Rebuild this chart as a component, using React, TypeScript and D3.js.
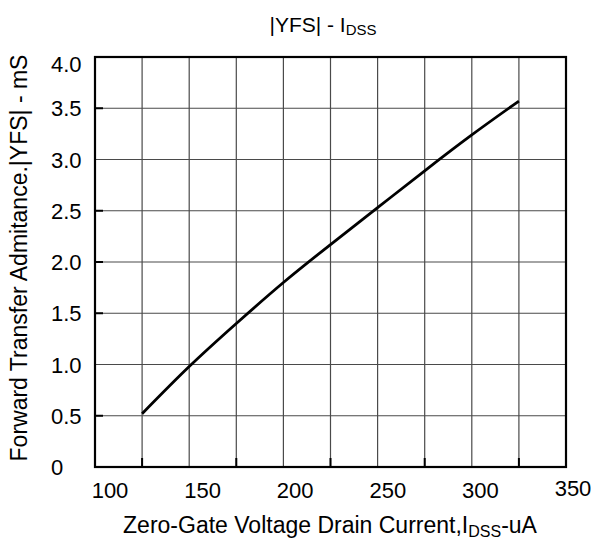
import { useEffect, useRef } from 'react';
import * as d3 from 'd3';

// |YFS| vs IDSS curve
const idss = [125, 150, 175, 200, 225, 250, 275, 300, 325];
const yfs = [0.52, 0.98, 1.4, 1.8, 2.17, 2.53, 2.89, 3.24, 3.57];

const xTicks = [100, 150, 200, 250, 300, 350];
const xGrid = [100, 125, 150, 175, 200, 225, 250, 275, 300, 325, 350];
const xMarks = [125, 175, 225, 275, 325];
const yTicks = [0, 0.5, 1.0, 1.5, 2.0, 2.5, 3.0, 3.5, 4.0];
const yMarks = [0.5, 1.5, 2.0, 2.5, 3.5];

const WIDTH = 595;
const HEIGHT = 543;
const M = { top: 57, right: 29, bottom: 76, left: 95 };
const FONT = '"Liberation Sans", Arial, sans-serif';

export default function App() {
  const svgRef = useRef<SVGSVGElement>(null);

  useEffect(() => {
    if (!svgRef.current) return;
    const svg = d3.select(svgRef.current);
    svg.selectAll('*').remove();

    const x = d3.scaleLinear().domain([100, 350]).range([M.left, WIDTH - M.right]);
    const y = d3.scaleLinear().domain([0, 4]).range([HEIGHT - M.bottom, M.top]);
    // tick labels in the original sit a little right of their grid lines
    const xLab = d3.scaleLinear().domain([100, 350]).range([x(100) + 15, x(350) + 7]);

    svg.append('rect').attr('width', WIDTH).attr('height', HEIGHT).attr('fill', '#fff');

    const grid = svg.append('g').attr('stroke', '#4a4a4a').attr('stroke-width', 1.2);
    grid
      .selectAll('line.v')
      .data(xGrid)
      .join('line')
      .attr('class', 'v')
      .attr('x1', (d) => x(d))
      .attr('x2', (d) => x(d))
      .attr('y1', y(4))
      .attr('y2', y(0));
    grid
      .selectAll('line.h')
      .data(yTicks)
      .join('line')
      .attr('class', 'h')
      .attr('x1', x(100))
      .attr('x2', x(350))
      .attr('y1', (d) => y(d))
      .attr('y2', (d) => y(d));

    // little inner tick marks
    const marks = svg.append('g').attr('stroke', '#000').attr('stroke-width', 2);
    marks
      .selectAll('line.xm')
      .data(xMarks)
      .join('line')
      .attr('class', 'xm')
      .attr('x1', (d) => x(d))
      .attr('x2', (d) => x(d))
      .attr('y1', y(0))
      .attr('y2', y(0) - 9);
    marks
      .selectAll('line.ym')
      .data(yMarks)
      .join('line')
      .attr('class', 'ym')
      .attr('x1', x(100))
      .attr('x2', x(100) + 8)
      .attr('y1', (d) => y(d))
      .attr('y2', (d) => y(d));

    svg
      .append('rect')
      .attr('x', x(100))
      .attr('y', y(4))
      .attr('width', x(350) - x(100))
      .attr('height', y(0) - y(4))
      .attr('fill', 'none')
      .attr('stroke', '#000')
      .attr('stroke-width', 2.2);

    const line = d3
      .line<number>()
      .x((_, i) => x(idss[i]))
      .y((d) => y(d))
      .curve(d3.curveNatural);
    svg
      .append('path')
      .attr('d', line(yfs))
      .attr('fill', 'none')
      .attr('stroke', '#000')
      .attr('stroke-width', 2.8);

    // x tick labels
    svg
      .append('g')
      .selectAll('text')
      .data(xTicks)
      .join('text')
      .attr('x', (d) => xLab(d))
      .attr('y', (d) => (d === 350 ? y(0) + 29 : y(0) + 31))
      .attr('text-anchor', 'middle')
      .style('font-family', FONT)
      .style('font-size', '22px')
      .text((d) => String(d));

    // y tick labels (the top one sits below its line)
    svg
      .append('g')
      .selectAll('text')
      .data(yTicks)
      .join('text')
      .attr('x', 51)
      .attr('y', (d) => y(d) + (d === 4 ? 15 : 8))
      .attr('text-anchor', 'start')
      .style('font-family', FONT)
      .style('font-size', '22px')
      .text((d) => (d === 0 ? '0' : d.toFixed(1)));

    // title
    const title = svg
      .append('text')
      .attr('x', 323)
      .attr('y', 32)
      .attr('text-anchor', 'middle')
      .style('font-family', FONT)
      .style('font-size', '21px');
    title.append('tspan').text('|YFS| - I');
    title.append('tspan').attr('dy', 3).style('font-size', '15px').text('DSS');

    // x axis title
    const xt = svg
      .append('text')
      .attr('x', 330)
      .attr('y', 533)
      .attr('text-anchor', 'middle')
      .style('font-family', FONT)
      .style('font-size', '23px');
    xt.append('tspan').text('Zero-Gate Voltage Drain Current,I');
    xt.append('tspan').attr('dy', 4).style('font-size', '16px').text('DSS');
    xt.append('tspan').attr('dy', -4).text('-uA');

    // y axis title
    svg
      .append('text')
      .attr('transform', 'translate(27, 258) rotate(-90)')
      .attr('text-anchor', 'middle')
      .style('font-family', FONT)
      .style('font-size', '23px')
      .text('Forward Transfer Admitance.|YFS| - mS');
  }, []);

  return (
    <svg
      ref={svgRef}
      width={WIDTH}
      height={HEIGHT}
      style={{ position: 'absolute', left: 0, top: 0 }}
    />
  );
}
